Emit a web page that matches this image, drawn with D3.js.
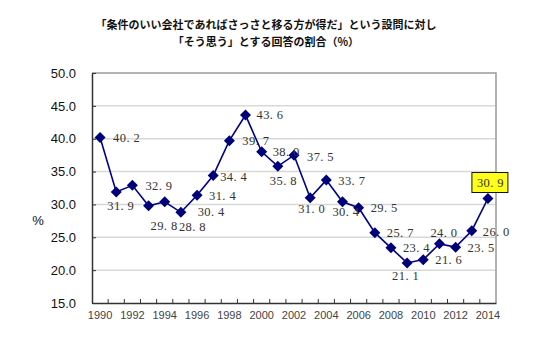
<!DOCTYPE html>
<html><head><meta charset="utf-8">
<script src="https://cdn.jsdelivr.net/npm/d3@7"></script>
<style>body{margin:0;background:#fff}svg{display:block}</style>
</head><body><svg id="c" width="560" height="340"></svg>
<script>
const titleLines = ["「条件のいい会社であればさっさと移る方が得だ」という設問に対し", "「そう思う」とする回答の割合（%）"];
const years = [1990,1991,1992,1993,1994,1995,1996,1997,1998,1999,2000,2001,2002,2003,2004,2005,2006,2007,2008,2009,2010,2011,2012,2013,2014];
const values = [40.2,31.9,32.9,29.8,30.4,28.8,31.4,34.4,39.7,43.6,38.0,35.8,37.5,31.0,33.7,30.4,29.5,25.7,23.4,21.1,21.6,24.0,23.5,26.0,30.9];
const yTicks = [15,20,25,30,35,40,45,50];
const xTickLabels = [1990,1992,1994,1996,1998,2000,2002,2004,2006,2008,2010,2012,2014];
const highlightYear = 2014;
// label offsets (layout only)
const labelOffsets = [[13,0],[-9,14],[13,0],[2,20],[33,10],[-2,14],[12,0],[7,1],[13,0],[11,0],[11,0],[-8,14],[13,1],[-12,11],[12,1],[-10,10],[12,0],[12,0],[12,0],[-15,13],[12,0],[-9,-11],[12,0],[11,1],[-11,-16]];

const svg = d3.select("#c");
const L=92, R=496, T=73, B=303;
const x = d3.scaleBand().domain(years).range([L,R]);
const y = d3.scaleLinear().domain([15,50]).range([B,T]);
const cx = d => x(d)+x.bandwidth()/2;

// title
svg.append("g").selectAll("text").data(titleLines).join("text")
  .attr("x",266).attr("y",(d,i)=>29+i*17).attr("text-anchor","middle")
  .attr("font-family","'Noto Sans CJK JP'").attr("font-size",11).attr("font-weight","bold")
  .attr("fill","#111").text(d=>d);

// gridlines
svg.append("g").selectAll("line").data(yTicks.filter(v=>v>15&&v<50)).join("line")
  .attr("x1",L).attr("x2",R).attr("y1",d=>y(d)).attr("y2",d=>y(d))
  .attr("stroke","#d8d8d8").attr("stroke-width",1.5);

// frame top/right
svg.append("path").attr("d",`M${L},${T}H${R}V${B}`).attr("fill","none").attr("stroke","#9a9a9a").attr("stroke-width",1.5);

// y axis
const yAxis = d3.axisLeft(y).tickValues(yTicks).tickFormat(d3.format(".1f")).tickSizeInner(-4).tickSizeOuter(0).tickPadding(16);
const gy = svg.append("g").attr("transform",`translate(${L},0)`).call(yAxis);
gy.select(".domain").attr("stroke","#333").attr("stroke-width",1.5);
gy.selectAll(".tick line").attr("stroke","#333");
gy.selectAll("text").attr("font-family","Arial, 'Liberation Sans'").attr("font-size",13).attr("fill","#111");

// x axis
const xAxis = d3.axisBottom(x).tickValues(xTickLabels).tickSize(0).tickPadding(8);
const gx = svg.append("g").attr("transform",`translate(0,${B})`).call(xAxis);
gx.select(".domain").attr("stroke","#333").attr("stroke-width",1.5);
gx.selectAll("text").attr("font-family","Arial, 'Liberation Sans'").attr("font-size",11).attr("fill","#444");
// band-boundary ticks (inside)
gx.append("g").selectAll("line").data(years.slice(1)).join("line")
  .attr("x1",d=>x(d)).attr("x2",d=>x(d)).attr("y1",0).attr("y2",-4).attr("stroke","#333");

// % label
svg.append("text").attr("x",38).attr("y",225).attr("text-anchor","middle")
  .attr("font-family","Arial, 'Liberation Sans'").attr("font-size",13).attr("fill","#111").text("%");

// line
svg.append("path").datum(years.map((yr,i)=>[cx(yr),y(values[i])]))
  .attr("d",d3.line()).attr("fill","none").attr("stroke","#00008b").attr("stroke-width",1.6);

// markers
svg.append("g").selectAll("path").data(years).join("path")
  .attr("transform",(d,i)=>`translate(${cx(d)},${y(values[i])})`)
  .attr("d","M0,-5.5L5.5,0L0,5.5L-5.5,0Z").attr("fill","#00007a");

// labels
const fmt = v => d3.format(".1f")(v).replace(".",". ");
const lg = svg.append("g");
years.forEach((yr,i)=>{
  const px = cx(yr)+labelOffsets[i][0], py = y(values[i])+labelOffsets[i][1];
  if (yr===highlightYear){
    lg.append("rect").attr("x",px-5).attr("y",py-10).attr("width",36).attr("height",20)
      .attr("fill","#ffff1a").attr("stroke","#111").attr("stroke-width",1);
  }
  lg.append("text").attr("x",px).attr("y",py).attr("dy","0.35em")
    .attr("font-family","'Liberation Serif', 'DejaVu Serif'").attr("font-size",12.5)
    .attr("letter-spacing",0.4).attr("fill","#333").text(fmt(values[i]));
});
</script></body></html>
